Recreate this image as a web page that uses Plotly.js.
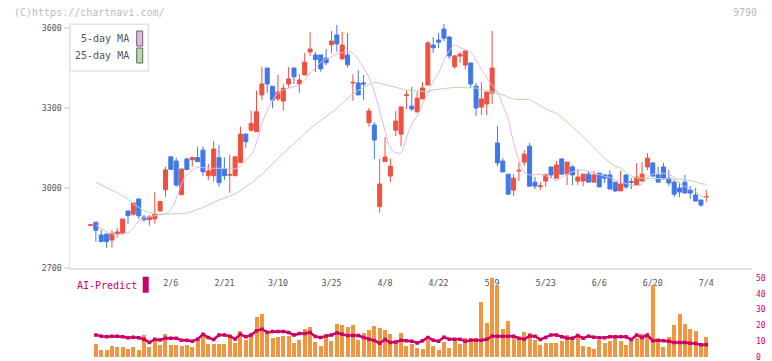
<!DOCTYPE html>
<html><head><meta charset="utf-8">
<script src="https://cdn.plot.ly/plotly-3.0.1.min.js"></script>
<style>html,body{margin:0;padding:0;background:#fff}#chart{width:772px;height:361px}</style>
</head><body><div id="chart"></div>
<script>
// Trading days (2025), one per candle
const dates = ['1/16','1/17','1/20','1/21','1/22','1/23','1/24','1/27','1/28','1/29','1/30','1/31',
'2/3','2/4','2/5','2/6','2/7','2/10','2/12','2/13','2/14','2/17','2/18','2/19','2/20','2/21','2/25','2/26','2/27','2/28',
'3/3','3/4','3/5','3/6','3/7','3/10','3/11','3/12','3/13','3/14','3/17','3/18','3/19','3/21','3/24','3/25','3/26','3/27','3/28','3/31',
'4/1','4/2','4/3','4/4','4/7','4/8','4/9','4/10','4/11','4/14','4/15','4/16','4/17','4/18','4/21','4/22','4/23','4/24','4/25','4/28','4/30',
'5/1','5/2','5/7','5/8','5/9','5/12','5/13','5/14','5/15','5/16','5/19','5/20','5/21','5/22','5/23','5/26','5/27','5/28','5/29','5/30',
'6/2','6/3','6/4','6/5','6/6','6/9','6/10','6/11','6/12','6/13','6/16','6/17','6/18','6/19','6/20','6/23','6/24','6/25','6/26','6/27','6/30',
'7/1','7/2','7/3','7/4'];

const open = [2860,2872,2824,2827,2805,2829,2830,2914,2902,2959,2891,2881,2884,2914,2994,3117,3101,2975,3109,3106,
3114,3142,3046,3046,3114,3071,3048,3046,3096,3202,3217,3211,3349,3450,3382,3334,3326,3390,3450,3390,
3424,3510,3499,3499,3487,3537,3574,3484,3499,3394,3394,3394,3245,3236,2930,3099,3045,3217,3202,3347,
3307,3285,3334,3386,3536,3555,3596,3566,3455,3495,3461,3469,3382,3304,3315,3356,3169,3101,3052,2992,
3064,3097,3157,3022,3006,3026,3079,3037,3109,3052,3079,3026,3026,3052,3022,3056,3049,3049,3022,2989,
3049,3024,3011,3026,3079,3094,3049,3079,3037,3022,3000,3022,2992,2974,2955,2966];
const high = [2862,2872,2842,2830,2842,2849,2884,2914,2944,2959,2899,2899,2985,2952,3080,3117,3114,3074,3114,3114,
3155,3155,3090,3177,3161,3114,3124,3117,3230,3205,3290,3365,3455,3450,3382,3424,3390,3454,3450,3427,
3507,3585,3510,3499,3521,3589,3611,3585,3581,3427,3442,3424,3300,3247,3109,3191,3109,3289,3304,3367,
3379,3361,3397,3551,3566,3581,3615,3570,3499,3510,3514,3469,3394,3397,3360,3589,3232,3112,3052,3052,
3097,3142,3169,3042,3022,3056,3079,3101,3112,3097,3086,3071,3052,3064,3064,3056,3052,3067,3022,3064,
3049,3037,3094,3097,3131,3097,3079,3094,3067,3030,3022,3049,3007,3000,2955,2992];
const low = [2858,2799,2799,2776,2776,2814,2830,2865,2896,2884,2874,2859,2867,2912,2967,3068,3005,2972,3068,3080,
3099,3045,3030,3024,3005,3030,2982,3046,3095,3151,3211,3211,3330,3357,3299,3326,3290,3376,3390,3357,
3424,3495,3434,3436,3461,3505,3511,3484,3451,3327,3349,3330,3230,3109,2907,3099,3022,3195,3157,3296,
3289,3285,3334,3386,3507,3525,3551,3484,3447,3470,3446,3375,3270,3274,3274,3315,3082,3060,2974,2970,
3026,3082,3007,2996,2992,3004,3037,3037,3052,3011,3011,3011,3007,3022,3022,3004,3019,2996,2985,2989,
2996,2996,3011,3026,3067,3041,3022,3034,3007,2966,2966,2981,2959,2951,2929,2947];
const close = [2862,2842,2799,2799,2830,2835,2884,2896,2944,2896,2881,2892,2902,2949,3068,3070,3011,3071,3069,3114,
3099,3061,3064,3146,3020,3046,3050,3117,3202,3174,3242,3286,3390,3390,3330,3360,3374,3409,3417,3405,
3472,3521,3482,3447,3470,3551,3540,3536,3462,3396,3349,3390,3289,3180,3015,3116,3082,3251,3304,3349,
3296,3337,3375,3544,3526,3547,3562,3495,3495,3502,3514,3390,3300,3334,3360,3450,3094,3060,2977,3037,
3066,3127,3007,3007,3008,3049,3049,3086,3052,3097,3049,3041,3052,3022,3049,3004,3037,2996,2989,3015,
3004,3022,3041,3052,3112,3045,3022,3034,3019,2977,2985,2981,2981,2951,2936,2968];

const ma5 = [null,2861,2848,2836,2828,2824,2828,2832,2850,2875,2888,2892,2896,2899,2904,2920,2960,3015,3050,3066,
3078,3076,3074,3074,3074,3074,3072,3072,3082,3105,3125,3170,3240,3290,3330,3355,3368,3374,3380,3386,
3405,3430,3452,3471,3483,3492,3503,3507,3511,3506,3482,3450,3415,3360,3290,3215,3150,3133,3132,3190,
3240,3270,3315,3355,3400,3430,3480,3515,3536,3527,3518,3510,3480,3445,3415,3385,3360,3310,3260,3170,
3105,3060,3049,3050,3052,3046,3038,3028,3040,3052,3061,3064,3067,3062,3056,3050,3044,3040,3030,3024,
3017,3011,3009,3015,3038,3052,3055,3055,3050,3040,3017,3005,2997,2986,2970,2965];
const ma25 = [null,3021,3012,3003,2994,2982,2970,2958,2940,2926,2915,2908,2904,2902,2902,2902,2903,2904,2906,2912,
2920,2927,2937,2946,2955,2962,2969,2978,2990,3003,3018,3036,3050,3072,3090,3112,3130,3150,3168,3186,
3205,3222,3240,3253,3268,3280,3298,3318,3336,3352,3366,3376,3386,3397,3393,3388,3382,3377,3371,3367,
3365,3364,3362,3361,3368,3371,3373,3375,3377,3377,3377,3377,3375,3370,3365,3361,3357,3350,3340,3334,
3332,3332,3332,3320,3308,3297,3288,3280,3265,3248,3232,3212,3192,3172,3150,3130,3112,3095,3082,3075,
3058,3045,3038,3037,3036,3036,3036,3035,3035,3035,3033,3030,3028,3024,3016,3014];

const volume = [null,8.3,4.5,4.5,7.0,6.4,6.4,5.2,6.4,4.5,13.9,6.4,10.8,7.7,14.5,7.7,7.7,7.3,7.7,6.4,
10.8,14.5,8.3,8.7,8.3,8.3,13.9,8.9,16.4,10.8,15.2,25.2,27.1,15.6,12.1,12.9,13.5,13.5,8.9,10.8,
17.7,19.1,9.5,7.3,13.5,10.4,20.8,20.2,19.1,20.2,10.8,15.2,17.1,19.5,18.3,17.1,14.5,8.9,15.2,7.1,
8.3,5.8,5.2,10.8,7.3,4.5,9.5,5.8,10.2,8.3,12.1,12.1,12.1,34.5,21.4,49.6,44.6,17.7,22.7,12.9,
12.1,15.8,15.2,10.8,7.7,8.9,8.9,8.9,10.2,13.9,10.8,12.7,7.1,6.4,5.2,10.8,8.9,10.2,13.9,10.2,
7.7,10.8,12.1,14.5,14.5,45.4,10.2,6.6,12.7,20.2,27.1,20.8,17.7,16.4,7.1,12.9];
const aiPredict = [null,14.0,13.3,12.9,13.3,13.3,12.9,12.3,12.7,12.3,11.4,9.3,11.4,11.0,12.0,12.0,12.0,10.8,10.8,10.2,
11.4,14.5,12.5,11.2,14.0,14.0,13.3,11.6,14.5,12.9,14.0,16.8,17.7,15.8,16.2,16.2,16.2,15.6,14.0,15.0,
15.0,15.6,13.1,12.5,13.5,14.0,15.4,14.5,13.7,13.7,13.7,12.5,11.4,10.6,8.9,11.2,9.3,9.6,10.8,10.4,
10.2,9.1,10.4,12.5,10.8,10.2,12.7,11.4,11.4,11.4,10.2,10.8,10.8,10.8,11.4,13.3,13.3,13.3,13.3,13.3,
12.1,11.4,13.5,13.3,11.2,12.5,14.1,14.1,12.9,12.1,12.1,13.7,12.1,13.3,12.7,12.3,12.3,12.9,12.9,12.9,
12.9,11.2,14.1,12.5,14.0,10.4,10.8,10.4,10.2,9.4,9.4,9.4,8.9,8.7,7.9,7.9];

const tickLabels = ['2/6','2/21','3/10','3/25','4/8','4/22','5/9','5/23','6/6','6/20','7/4'];
const priceTicks = [2700,3000,3300,3600];
const volTicks = [0,10,20,30,40,50];

const RED = '#f05040', BLUE = '#4078e8', ORANGE = '#f09640', PINK = '#e8b4e8', GREEN = '#b4dcaa', CRIMSON = '#cc0066';
const MONO = 'DejaVu Sans Mono, monospace';
const AXC = '#e2e2e2';

const traces = [
  {type:'candlestick', x:dates, open:open, high:high, low:low, close:close, xaxis:'x', yaxis:'y',
   increasing:{line:{color:RED,width:1}, fillcolor:RED}, decreasing:{line:{color:BLUE,width:1}, fillcolor:BLUE},
   whiskerwidth:0, hoverinfo:'skip'},
  {type:'scatter', mode:'lines', x:dates, y:ma25, line:{color:GREEN,width:1}, xaxis:'x', yaxis:'y', hoverinfo:'skip'},
  {type:'scatter', mode:'lines', x:dates, y:ma5, line:{color:PINK,width:1,shape:'spline'}, xaxis:'x', yaxis:'y', hoverinfo:'skip'},
  {type:'bar', x:dates, y:volume, marker:{color:ORANGE}, width:0.75, xaxis:'x', yaxis:'y2', hoverinfo:'skip'},
  {type:'scatter', mode:'lines+markers', x:dates, y:aiPredict, line:{color:CRIMSON,width:2.5},
   marker:{color:CRIMSON,size:3.5,symbol:'square'}, xaxis:'x', yaxis:'y2', hoverinfo:'skip'}
];

const W = 682, H = 361, L = 70;
const px = v => (v - L) / W;      // pixel x -> paper
const py = v => 1 - v / H;         // pixel y -> paper
const gridTicks = Array.from({length:11},(_,k)=>k+1);

const layout = {
  width:772, height:361,
  margin:{l:70, r:20, t:0, b:0, pad:0},
  paper_bgcolor:'#ffffff', plot_bgcolor:'#ffffff',
  showlegend:false, boxgap:0.25, boxgroupgap:0, bargap:0,
  font:{family:MONO, size:8.3, color:'#555'},
  xaxis:{type:'category', range:[-3.83,123.53], anchor:'y', showline:true, linecolor:AXC, linewidth:1.5,
    ticks:'', tickvals:tickLabels, ticktext:tickLabels, ticklabelstandoff:7, showgrid:false, zeroline:false,
    tickfont:{family:MONO, size:8.3, color:'#555'}, rangeslider:{visible:false}, fixedrange:true},
  xaxis2:{type:'linear', range:[0,11], overlaying:'x', anchor:'y', side:'bottom',
    tickvals:gridTicks, ticks:'inside', ticklen:3.5, tickwidth:1.5, tickcolor:AXC,
    showticklabels:false, showgrid:false, zeroline:false, showline:false, fixedrange:true},
  xaxis3:{type:'linear', range:[0,11], overlaying:'x', anchor:'y', side:'bottom',
    tickvals:gridTicks, ticks:'outside', ticklen:2, tickwidth:1.5, tickcolor:AXC,
    showticklabels:false, showgrid:false, zeroline:false, showline:false, fixedrange:true},
  yaxis:{domain:[py(268), py(24)], range:[2700,3615], showline:true, linecolor:AXC, linewidth:1.5,
    ticks:'outside', ticklen:5, tickwidth:1.5, tickcolor:AXC, tickvals:priceTicks, showgrid:false, zeroline:false,
    tickfont:{family:MONO, size:8.3, color:'#555'}, fixedrange:true},
  yaxis2:{domain:[py(357.4), py(277.8)], range:[0,50], anchor:'x', side:'right', showline:false, ticks:'',
    tickvals:volTicks, showgrid:false, zeroline:false, ticklabelstandoff:3, ticklabeloverflow:'allow',
    tickfont:{family:MONO, size:8, color:CRIMSON}, fixedrange:true},
  shapes:[
    {type:'rect', xref:'paper', yref:'paper', x0:px(70), x1:px(148.3), y0:py(71), y1:py(24.3),
     fillcolor:'#fff', line:{color:AXC, width:1.5}, layer:'above'},
    {type:'rect', xref:'paper', yref:'paper', x0:px(136.7), x1:px(142.7), y0:py(46), y1:py(31),
     fillcolor:PINK, line:{color:'#666', width:1}, layer:'above'},
    {type:'rect', xref:'paper', yref:'paper', x0:px(136.7), x1:px(142.7), y0:py(63), y1:py(48),
     fillcolor:GREEN, line:{color:'#666', width:1}, layer:'above'},
    {type:'rect', xref:'paper', yref:'paper', x0:px(142.7), x1:px(148.7), y0:py(292.7), y1:py(276.7),
     fillcolor:CRIMSON, line:{width:0}, layer:'above'}
  ],
  annotations:[
    {text:'5-day MA', xref:'paper', yref:'paper', x:px(129.5), y:py(39), xanchor:'right', yanchor:'middle',
     showarrow:false, font:{family:MONO, size:10, color:'#555'}, borderpad:0},
    {text:'25-day MA', xref:'paper', yref:'paper', x:px(129.5), y:py(56), xanchor:'right', yanchor:'middle',
     showarrow:false, font:{family:MONO, size:10, color:'#555'}, borderpad:0},
    {text:'(C)https://chartnavi.com/', xref:'paper', yref:'paper', x:px(13), y:py(12.5), xanchor:'left', yanchor:'middle',
     showarrow:false, font:{family:MONO, size:10, color:'#bbb'}, borderpad:0},
    {text:'9790', xref:'paper', yref:'paper', x:px(757.5), y:py(12.5), xanchor:'right', yanchor:'middle',
     showarrow:false, font:{family:MONO, size:10, color:'#bbb'}, borderpad:0},
    {text:'AI-Predict', xref:'paper', yref:'paper', x:px(75.5), y:py(285.5), xanchor:'left', yanchor:'middle',
     showarrow:false, font:{family:MONO, size:10, color:CRIMSON}, borderpad:0}
  ]
};

Plotly.newPlot('chart', traces, layout, {displayModeBar:false, staticPlot:true});
</script>
</body></html>
